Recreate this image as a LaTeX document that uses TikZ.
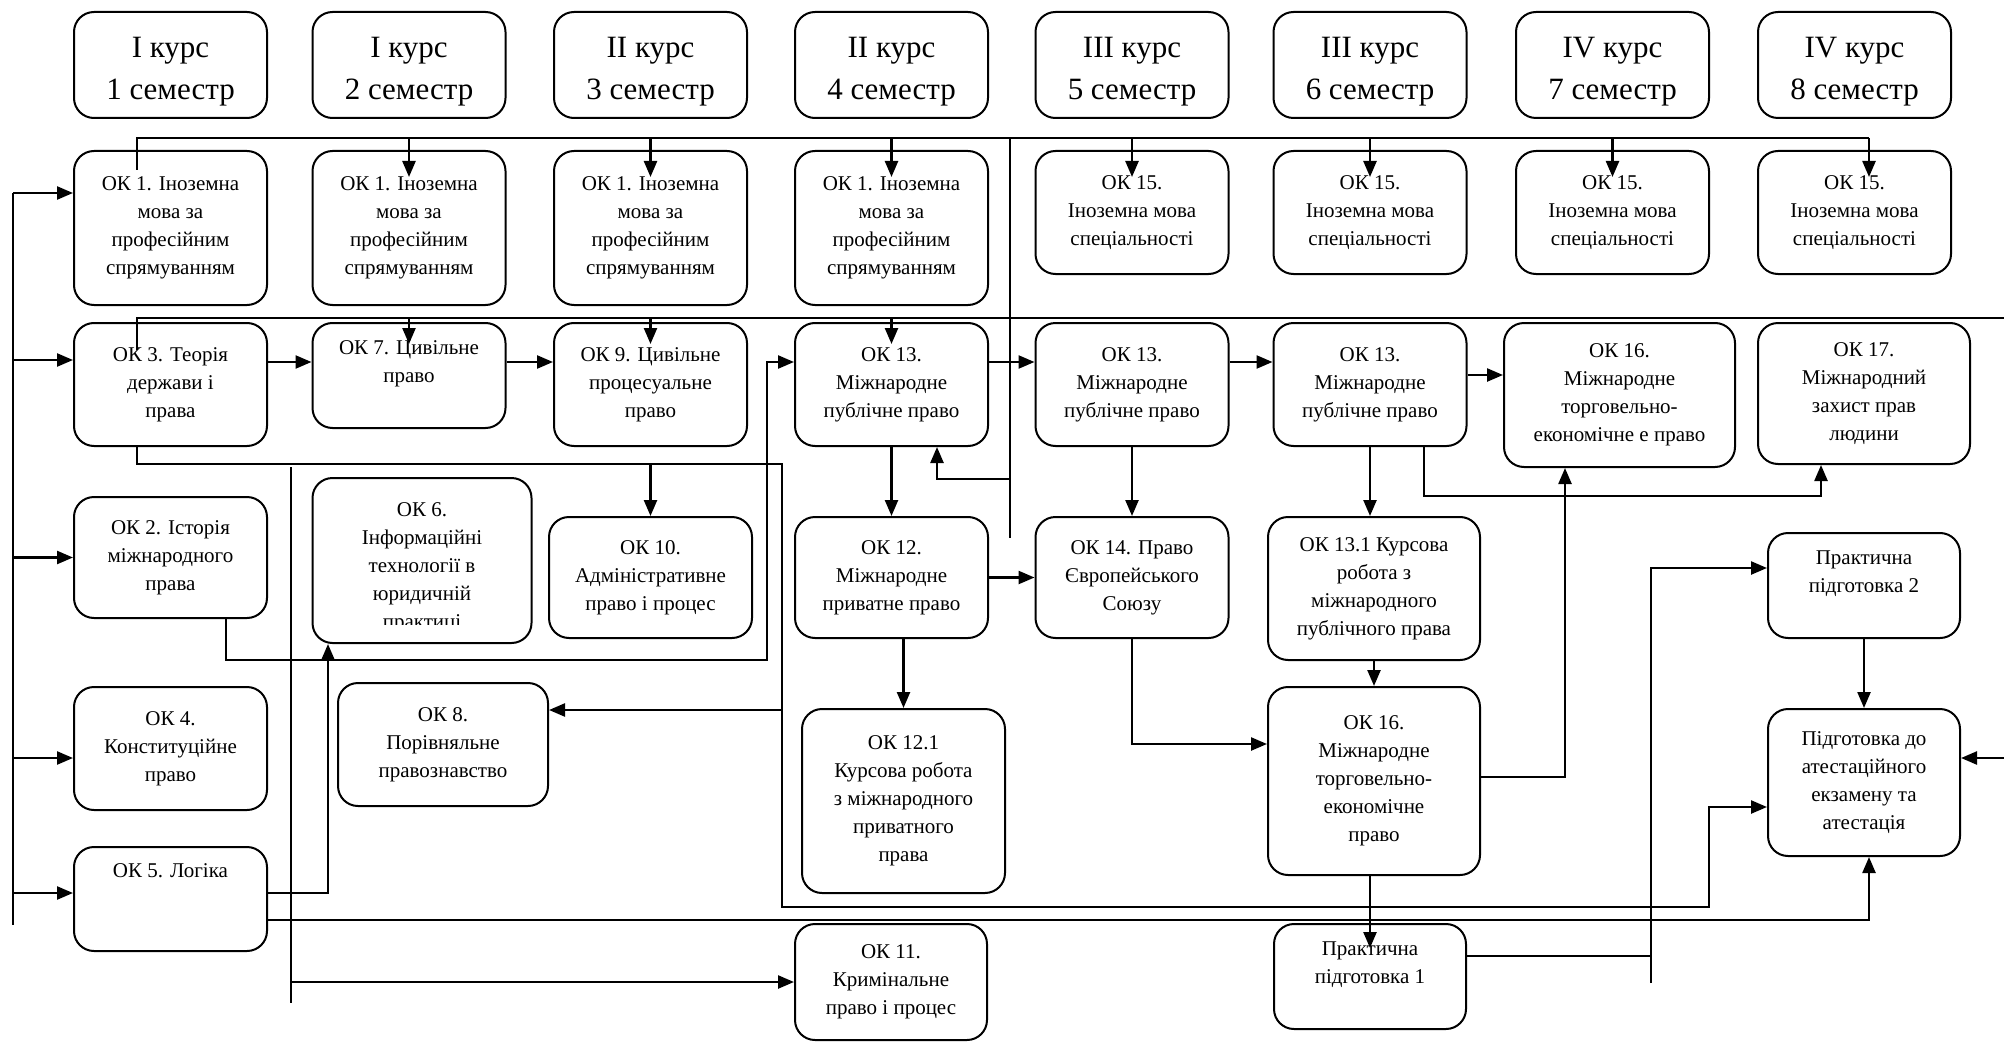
\documentclass[tikz,border=0pt]{standalone}
\usepackage{fontspec}
\setmainfont{Liberation Serif}
\usepackage{tikz}
\usetikzlibrary{arrows.meta,calc,positioning}

\tikzset{
  sembox/.style={draw,line width=2pt,rounded corners=20pt,align=center,inner sep=0pt,minimum width=193pt,minimum height=106pt,font=\fontsize{31}{42}\selectfont},
  box/.style={draw,line width=2pt,rounded corners=20pt,align=center,inner sep=0pt,minimum width=193pt,font=\fontsize{21}{28}\selectfont},
  txt/.style={align=center,inner sep=0pt,font=\fontsize{21}{28}\selectfont},
  arr/.style={-{Triangle[length=16pt,width=13pt]},line width=2.4pt},
  ln/.style={line width=2pt}
}
\newcommand{\semtop}{\rule{0pt}{33pt}}

\begin{document}
\begin{tikzpicture}[x=1pt,y=-1pt]
\useasboundingbox (0,0) rectangle (2004,1043);
% Semesters
\node[sembox] (h1) at (170.5,65) {\semtop I курс\\1 семестр};
\node[sembox] (h2) at (409,65) {\semtop I курс\\2 семестр};
\node[sembox] (h3) at (650.5,65) {\semtop II курс\\3 семестр};
\node[sembox] (h4) at (891.5,65) {\semtop II курс\\4 семестр};
\node[sembox] (h5) at (1132,65) {\semtop III курс\\5 семестр};
\node[sembox] (h6) at (1370,65) {\semtop III курс\\6 семестр};
\node[sembox] (h7) at (1612.5,65) {\semtop IV курс\\7 семестр};
\node[sembox] (h8) at (1854.5,65) {\semtop IV курс\\8 семестр};
% Languages
\node[box,minimum height=154pt] (ok1a) at (170.5,228) {ОК 1. Іноземна\\мова за\\професійним\\спрямуванням};
\node[box,minimum height=154pt] (ok1b) at (409,228) {ОК 1. Іноземна\\мова за\\професійним\\спрямуванням};
\node[box,minimum height=154pt] (ok1c) at (650.5,228) {ОК 1. Іноземна\\мова за\\професійним\\спрямуванням};
\node[box,minimum height=154pt] (ok1d) at (891.5,228) {ОК 1. Іноземна\\мова за\\професійним\\спрямуванням};
\node[box,minimum height=123pt] (ok15a) at (1132,212.5) {ОК 15.\\Іноземна мова\\спеціальності};
\node[box,minimum height=123pt] (ok15b) at (1370,212.5) {ОК 15.\\Іноземна мова\\спеціальності};
\node[box,minimum height=123pt] (ok15c) at (1612.5,212.5) {ОК 15.\\Іноземна мова\\спеціальності};
\node[box,minimum height=123pt] (ok15d) at (1854.5,212.5) {ОК 15.\\Іноземна мова\\спеціальності};
% Second row
\node[box,minimum height=123pt] (ok3) at (170.5,384.5) {ОК 3. Теорія\\держави і\\права};
\node[box,minimum height=105pt] (ok7) at (409,375.5) {ОК 7. Цивільне\\право\\~};
\node[box,minimum height=123pt] (ok9) at (650.5,384.5) {ОК 9. Цивільне\\процесуальне\\право};
\node[box,minimum height=123pt] (ok13a) at (891.5,384.5) {ОК 13.\\Міжнародне\\публічне право};
\node[box,minimum height=123pt] (ok13b) at (1132,384.5) {ОК 13.\\Міжнародне\\публічне право};
\node[box,minimum height=123pt] (ok13c) at (1370,384.5) {ОК 13.\\Міжнародне\\публічне право};
\node[box,minimum width=231pt,minimum height=144pt] (ok16a) at (1619.5,395) {ОК 16.\\Міжнародне\\торговельно-\\економічне е право};
\node[box,minimum width=212pt,minimum height=141pt] (ok17) at (1864,393.5) {ОК 17.\\Міжнародний\\захист прав\\людини};
% Third row
\node[box,minimum height=121pt] (ok2) at (170.5,557.5) {ОК 2. Історія\\міжнародного\\права};
\node[box,minimum width=219pt,minimum height=165pt] (ok6) at (422,560.5) {};
\begin{scope}
\clip (ok6.north west) rectangle ([yshift=20pt]ok6.south east);
\node[txt] (ok6t) at (422,568) {ОК 6.\\Інформаційні\\технології в\\юридичній\\практиці};
\end{scope}
\node[box,minimum width=203pt,minimum height=121pt] (ok10) at (650.5,577.5) {ОК 10.\\Адміністративне\\право і процес};
\node[box,minimum height=121pt] (ok12) at (891.5,577.5) {ОК 12.\\Міжнародне\\приватне право};
\node[box,minimum height=121pt] (ok14) at (1132,577.5) {ОК 14. Право\\Європейського\\Союзу};
\node[box,minimum width=212pt,minimum height=143pt] (ok131) at (1374,588.5) {ОК 13.1 Курсова\\робота з\\міжнародного\\публічного права};
\node[box,minimum width=192pt,minimum height=105pt] (pp2) at (1864,585.5) {Практична\\підготовка 2\\~};
% Fourth row
\node[box,minimum height=123pt] (ok4) at (170.5,748.5) {ОК 4.\\Конституційне\\право};
\node[box,minimum width=210pt,minimum height=123pt] (ok8) at (443,744.5) {ОК 8.\\Порівняльне\\правознавство};
\node[box,minimum width=203pt,minimum height=184pt] (ok121) at (903.5,801) {ОК 12.1\\Курсова робота\\з міжнародного\\приватного\\права};
\node[box,minimum width=212pt,minimum height=188pt] (ok16b) at (1374,781) {ОК 16.\\Міжнародне\\торговельно-\\економічне\\право};
\node[box,minimum width=192pt,minimum height=147pt] (att) at (1864,782.5) {Підготовка до\\атестаційного\\екзамену та\\атестація};
% Fifth row
\node[box,minimum height=104pt] (ok5) at (170.5,899) {ОК 5. Логіка\\~\\~};
\node[box,minimum width=192pt,minimum height=116pt] (ok11) at (891,982) {ОК 11.\\Кримінальне\\право і процес};
\node[box,minimum width=192pt,minimum height=105pt] (pp1) at (1370,976.5) {Практична\\підготовка 1\\~};

% Left bus
\coordinate (bus0) at (13,193);
\coordinate (bus1) at (13,925);
\coordinate (bus3) at (13,360);
\coordinate (bus4) at (13,758);
\coordinate (bus5) at (13,893);
\draw[ln] (bus0) -- (bus1);
\draw[arr] (bus0) -- (bus0 -| ok1a.west);
\draw[arr] (bus3) -- (bus3 -| ok3.west);
\draw[arr] (bus0 |- ok2.west) -- (ok2.west);
\draw[arr] (bus4) -- (bus4 -| ok4.west);
\draw[arr] (bus5) -- (bus5 -| ok5.west);
% Top line to languages
\coordinate (t0) at (137,170);
\coordinate (t1) at (1869,138);
\coordinate (r1tip) at (0,177);
\draw[ln] (t0) |- (t1);
\draw[arr] (t1 -| ok1b) -- (r1tip -| ok1b);
\draw[arr] (t1 -| ok1c) -- (r1tip -| ok1c);
\draw[arr] (t1 -| ok1d) -- (r1tip -| ok1d);
\draw[arr] (t1 -| ok15a) -- (r1tip -| ok15a);
\draw[arr] (t1 -| ok15b) -- (r1tip -| ok15b);
\draw[arr] (t1 -| ok15c) -- (r1tip -| ok15c);
\draw[arr] (t1) -- (t1 |- r1tip);
% Second line
\coordinate (s0) at (137,350);
\coordinate (s1) at (2004,318);
\coordinate (r2tip) at (0,344);
\draw[ln] (s0) |- (s1);
\draw[arr] (s1 -| ok7) -- (r2tip -| ok7);
\draw[arr] (s1 -| ok9) -- (r2tip -| ok9);
\draw[arr] (s1 -| ok13a) -- (r2tip -| ok13a);
% Middle vertical
\coordinate (m0) at (1010,138);
\coordinate (m1) at (1010,538);
\coordinate (m2) at (937,479);
\draw[ln] (m0) -- (m1);
\draw[arr] (m2 -| m0) -- (m2) -- (m2 |- ok13a.south);
% Row arrows
\coordinate (r2) at (0,362);
\coordinate (r2b) at (0,375);
\draw[arr] (r2 -| ok3.east) -- (r2 -| ok7.west);
\draw[arr] (r2 -| ok7.east) -- (r2 -| ok9.west);
\draw[arr] (r2 -| ok13a.east) -- (r2 -| ok13b.west);
\draw[arr] (r2 -| ok13b.east) -- (r2 -| ok13c.west);
\draw[arr] (r2b -| ok13c.east) -- (r2b -| ok16a.west);
% OK 2 to OK 13
\coordinate (a0) at (226,660);
\coordinate (a1) at (767,660);
\draw[arr] (a0 |- ok2.south) -- (a0) -- (a1) |- (r2 -| ok13a.west);
% OK 3 lines
\coordinate (b0) at (137,464);
\coordinate (b1) at (782,907);
\coordinate (b2) at (1709,807);
\coordinate (b3) at (782,710);
\draw[arr] (b0 |- ok3.south) -- (b0) -| (b1) -| (b2) -- (b2 -| att.west);
\draw[arr] (b0 -| ok10) -- (ok10.north);
\draw[arr] (b3) -- (b3 -| ok8.east);
\coordinate (k0) at (291,467);
\coordinate (k1) at (291,1003);
\draw[ln] (k0) -- (k1);
\draw[arr] (k0 |- ok11.west) -- (ok11.west);
% OK 5 lines
\coordinate (g0) at (328,893);
\coordinate (g1) at (1869,920);
\draw[arr] (g0 -| ok5.east) -- (g0) -- (g0 |- ok6.south);
\draw[arr] (g1 -| ok5.east) -- (g1) -- (g1 |- att.south);
% International law
\draw[arr] (ok13a.south) -- (ok12.north);
\draw[arr] (ok12.east) -- (ok14.west);
\draw[arr] (ok13b.south) -- (ok14.north);
\draw[arr] (ok12.south -| ok121) -- (ok121.north);
\coordinate (e0) at (1132,744);
\draw[arr] (ok14.south) -- (e0) -- (e0 -| ok16b.west);
\draw[arr] (ok13c.south) -- (ok13c.south |- ok131.north);
\draw[arr] (ok131.south) -- (ok16b.north);
\coordinate (f0) at (1565,777);
\draw[arr] (f0 -| ok16b.east) -- (f0) -- (f0 |- ok16a.south);
\coordinate (f1) at (1424,496);
\coordinate (f2) at (1821,496);
\draw[arr] (f1 |- ok13c.south) -- (f1) -- (f2) -- (f2 |- ok17.south);
% Practice
\coordinate (p0) at (0,948);
\draw[arr] (ok16b.south -| pp1) -- (p0 -| pp1);
\coordinate (q0) at (1651,956);
\coordinate (q1) at (1651,983);
\coordinate (q2) at (1651,568);
\draw[ln] (q0 -| pp1.east) -- (q0);
\draw[arr] (q1) -- (q2) -- (q2 -| pp2.west);
\draw[arr] (pp2.south) -- (att.north);
\coordinate (w0) at (2004,758);
\draw[arr] (w0) -- (w0 -| att.east);
\end{tikzpicture}
\end{document}
